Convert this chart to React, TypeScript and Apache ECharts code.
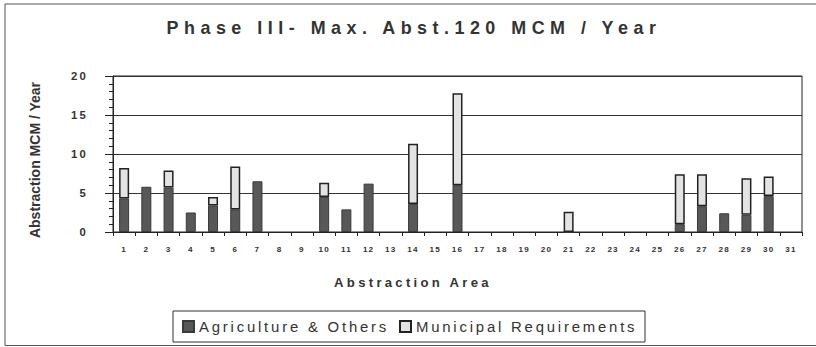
import React, { useEffect, useRef } from "react";
import * as echarts from "echarts";

// Abstraction areas along the x axis
const areas = [
  "1", "2", "3", "4", "5", "6", "7", "8", "9", "10",
  "11", "12", "13", "14", "15", "16", "17", "18", "19", "20",
  "21", "22", "23", "24", "25", "26", "27", "28", "29", "30", "31",
];

// MCM / year per area (null = no abstraction)
const agriculture = [
  4.3, 5.8, 5.7, 2.5, 3.4, 2.9, 6.5, null, null, 4.5,
  2.9, 6.2, null, 3.6, null, 6.0, null, null, null, null,
  0, null, null, null, null, 1.0, 3.3, 2.4, 2.2, 4.6, null,
];
const municipal = [
  3.9, null, 2.2, null, 1.1, 5.5, null, null, null, 1.8,
  null, null, null, 7.7, null, 11.8, null, null, null, null,
  2.6, null, null, null, null, 6.4, 4.1, null, 4.7, 2.5, null,
];

const yTicks = { min: 0, max: 20, interval: 5 };

const FONT = "'Liberation Sans', Arial, sans-serif";
const INK = "#333";

// Wide, typewriter-like letter spacing of the original layout, keyed by font size
const spacingCss = `
text[style*="17.9px"], text[font-size*="17.9px"] { letter-spacing: 5.5px; }
text[style*="13.1px"], text[font-size*="13.1px"] { letter-spacing: 3.3px; }
text[style*="14.9px"], text[font-size*="14.9px"] { letter-spacing: 2.8px; }
text[style*="11.3px"], text[font-size*="11.3px"] { letter-spacing: 2.2px; }
text[style*="8.1px"], text[font-size*="8.1px"] { letter-spacing: 1.2px; }
`;

export default function App() {
  const ref = useRef<HTMLDivElement>(null);

  useEffect(() => {
    if (!ref.current) return;
    const chart = echarts.init(ref.current, null, { renderer: "svg" });
    chart.setOption({
      animation: false,
      backgroundColor: "#fff",
      title: {
        text: "Phase III- Max. Abst.120 MCM / Year",
        left: 414,
        top: 19,
        padding: 0,
        textAlign: "center",
        textStyle: { fontFamily: FONT, fontSize: 17.9, fontWeight: "bold", color: INK },
      },
      grid: {
        left: 113,
        right: 14,
        top: 76,
        bottom: 115,
        show: true,
        borderColor: "#222",
        borderWidth: 1,
        backgroundColor: "transparent",
      },
      legend: {
        left: 173,
        top: 311,
        padding: [8, 3, 8, 9],
        itemWidth: 11,
        itemHeight: 11,
        itemGap: 10,
        borderColor: "#333",
        borderWidth: 1,
        icon: "rect",
        textStyle: { fontFamily: FONT, fontSize: 14.9, color: INK, lineHeight: 15 },
        data: [
          { name: "Agriculture & Others", textStyle: { width: 190 } },
          { name: "Municipal Requirements", textStyle: { width: 226 } },
        ],
      },
      xAxis: {
        type: "category",
        data: areas,
        axisLine: { lineStyle: { color: "#222", width: 1 } },
        axisTick: { show: true, length: 4, interval: 0, lineStyle: { color: "#222" } },
        axisLabel: {
          interval: 0,
          margin: 13,
          fontFamily: FONT,
          fontSize: 8.1,
          fontWeight: "bold",
          color: INK,
        },
        splitLine: { show: false },
      },
      yAxis: {
        type: "value",
        ...yTicks,
        name: "Abstraction MCM / Year",
        nameLocation: "middle",
        nameGap: 71,
        nameTextStyle: {
          fontFamily: FONT,
          fontSize: 14,
          fontWeight: "bold",
          color: INK,
          padding: [0, 12, 0, 0],
        },
        axisLine: { show: true, lineStyle: { color: "#222", width: 1 } },
        axisTick: { show: true, length: 8, lineStyle: { color: "#222" } },
        minorTick: { show: true, splitNumber: 5, length: 4, lineStyle: { color: "#222" } },
        axisLabel: {
          margin: 25,
          fontFamily: FONT,
          fontSize: 11.3,
          fontWeight: "bold",
          color: INK,
        },
        splitLine: { show: true, lineStyle: { color: "#333", width: 1 } },
      },
      series: [
        {
          name: "Agriculture & Others",
          type: "bar",
          stack: "total",
          barWidth: 10,
          data: agriculture,
          itemStyle: { color: "#585858", borderColor: "#3a3a3a", borderWidth: 1 },
        },
        {
          name: "Municipal Requirements",
          type: "bar",
          stack: "total",
          barWidth: 10,
          data: municipal,
          itemStyle: { color: "#e3e3e3", borderColor: "#222", borderWidth: 1.5 },
        },
      ],
      graphic: [
        {
          type: "rect",
          silent: true,
          shape: { x: 5, y: 4, width: 900, height: 341.5 },
          style: { fill: "none", stroke: "#555", lineWidth: 1 },
        },
        {
          type: "text",
          x: 413,
          y: 282,
          style: {
            text: "Abstraction Area",
            fontFamily: FONT,
            fontSize: 13.1,
            fontWeight: "bold",
            fill: INK,
            align: "center",
            verticalAlign: "middle",
          },
        },
      ],
    });
    return () => chart.dispose();
  }, []);

  return (
    <>
      <style>{spacingCss}</style>
      <div
        ref={ref}
        style={{ position: "fixed", left: 0, top: 0, width: 816, height: 347 }}
      />
    </>
  );
}
